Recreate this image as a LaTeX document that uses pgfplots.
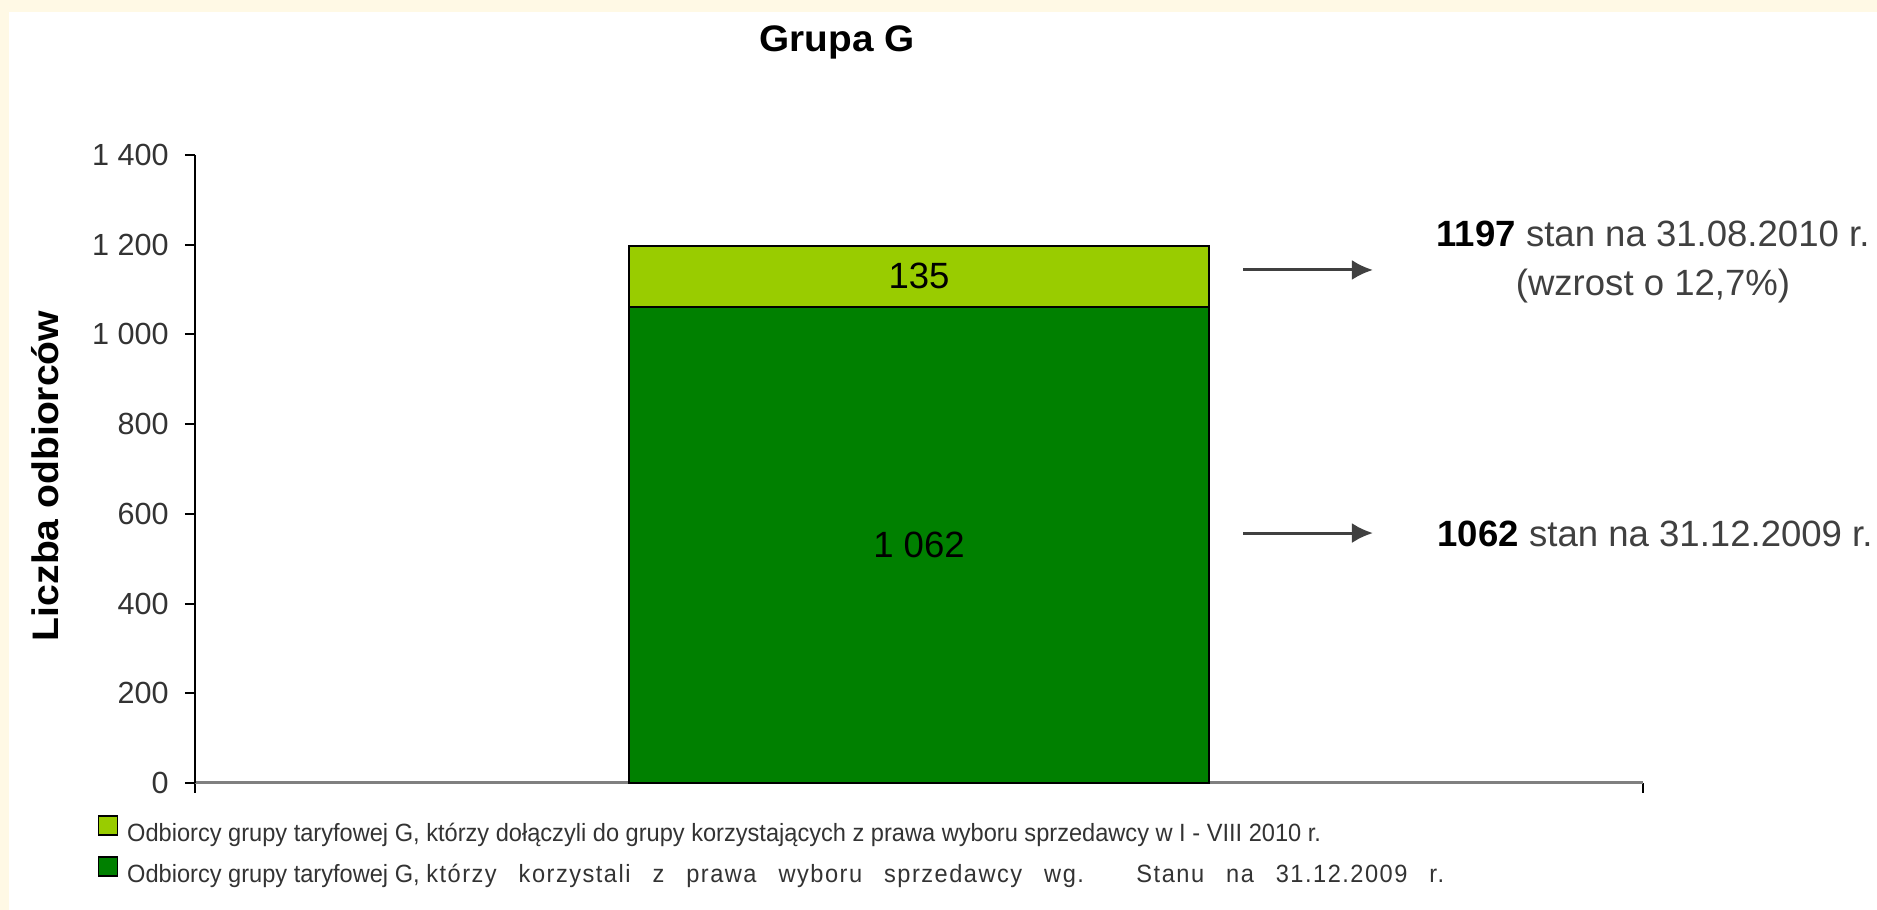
\documentclass[border=0pt]{standalone}
\usepackage{fontspec}
\setmainfont{Liberation Sans}
\newfontfamily\legA[FakeStretch=0.946]{Liberation Sans}
\newfontfamily\legC[FakeStretch=0.946,LetterSpace=6]{Liberation Sans}
\newfontfamily\ylab[FakeStretch=1.06]{Liberation Sans}
\newfontfamily\ttl[FakeStretch=1.05]{Liberation Sans}
\usepackage{pgfplots}
\pgfplotsset{compat=1.18}
\usetikzlibrary{arrows.meta}
\definecolor{cream}{HTML}{FFF9E5}
\definecolor{lgreen}{HTML}{99CC00}
\definecolor{dgreen}{HTML}{008000}
\definecolor{txt}{HTML}{333333}
\definecolor{atxt}{HTML}{404040}
\newlength\lw
\begin{document}%
\settowidth{\lw}{\legA\fontsize{7.1}{8}\selectfont Odbiorcy grupy taryfowej G, }%
\begin{tikzpicture}
\useasboundingbox (0,0) rectangle (187.7mm,91mm);
\fill[cream] (0,0) rectangle (187.7mm,91mm);
\fill[white] (0.9mm,0) rectangle (187.7mm,89.8mm);
\begin{axis}[
  at={(19.5mm,12.7mm)}, anchor=south west,
  width=144.8mm, height=62.8mm, scale only axis,
  xmin=0, xmax=1, ymin=0, ymax=1400,
  axis lines*=left,
  x axis line style={draw=gray, line width=0.3mm},
  y axis line style={draw=black, line width=0.2mm},
  xtick={0,1}, xticklabels={,},
  ytick={0,200,...,1400},
  tick align=outside, major tick length=1mm,
  tick style={black, line width=0.2mm},
  yticklabel style={font=\fontsize{8.7}{10}\selectfont, text=txt, xshift=-0.4mm,
    /pgf/number format/.cd, 1000 sep={\ }, assume math mode=true},
  ybar stacked, bar width=0.4,
  clip=false,
  ylabel={Liczba odbiorców},
  every axis y label/.style={at={(axis description cs:0,0.489)}, xshift=-15mm, rotate=90, anchor=center, font=\ylab\bfseries\fontsize{10.5}{12}\selectfont},
  reverse legend,
  legend image code/.code={\draw[#1, line width=0.15mm] (0mm,-0.05mm) rectangle (1.9mm,1.85mm);},
  legend style={at={(0,0)}, anchor=north west, xshift=-9.8mm, yshift=-3.14mm,
    draw=none, fill=none, font=\fontsize{7.1}{8}\selectfont, text=txt,
    inner sep=0pt, row sep=0.9mm, column sep=0.9mm,
    nodes={inner sep=0pt, text height=2mm, text depth=0.6mm},
    legend cell align=left},
]
\addplot[fill=dgreen, draw=black, line width=0.2mm] coordinates {(0.5,1062)};
\addlegendentry{\legA Odbiorcy grupy taryfowej G, \legC\makebox[\dimexpr131.7mm-\lw\relax][s]{którzy korzystali z prawa wyboru sprzedawcy wg. Stanu na 31.12.2009 r.}}
\addplot[fill=lgreen, draw=black, line width=0.2mm] coordinates {(0.5,135)};
\addlegendentry{\legA Odbiorcy grupy taryfowej G, którzy dołączyli do grupy korzystających z prawa wyboru sprzedawcy w I - VIII 2010 r.}
\draw[atxt, line width=0.3mm, -{Latex[length=2.1mm,width=2mm]}] (rel axis cs:0.7238,0.8169) -- (rel axis cs:0.8135,0.8169);
\draw[atxt, line width=0.3mm, -{Latex[length=2.1mm,width=2mm]}] (rel axis cs:0.7238,0.398) -- (rel axis cs:0.8135,0.398);
\node[align=center, text=atxt, font=\fontsize{10.4}{14.2}\selectfont] at (rel axis cs:1.0069,0.8296)
  {\textcolor{black}{\bfseries 1197} stan na 31.08.2010 r.\\(wzrost o 12,7\%)};
\node[anchor=west, inner sep=0pt, text=atxt, font=\fontsize{10.4}{12}\selectfont] at (rel axis cs:0.8577,0.3965)
  {\textcolor{black}{\bfseries 1062} stan na 31.12.2009 r.};
\end{axis}
\node[font=\ttl\bfseries\fontsize{10.5}{12}\selectfont] at (83.7mm,86.8mm) {Grupa G};
\node[font=\fontsize{10.4}{12}\selectfont] at (91.9mm,36.52mm) {1 062};
\node[font=\fontsize{10.4}{12}\selectfont] at (91.9mm,63.37mm) {135};
\end{tikzpicture}%
\end{document}
